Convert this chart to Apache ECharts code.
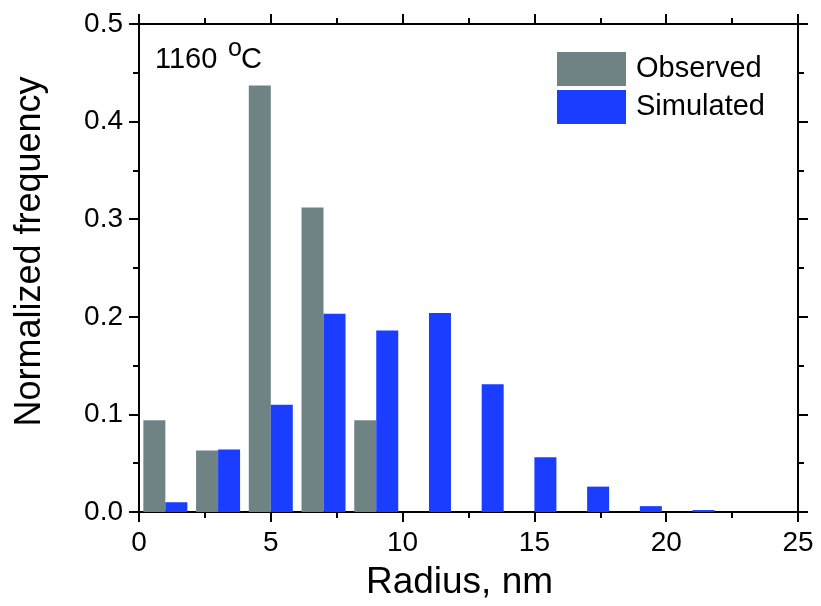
<!DOCTYPE html>
<html>
<head>
<meta charset="utf-8">
<script src="https://cdn.jsdelivr.net/npm/echarts@6/dist/echarts.min.js"></script>
<style>
  html, body { margin: 0; padding: 0; background: #fff; }
  #chart { width: 821px; height: 606px; }
</style>
</head>
<body>
<div id="chart"></div>
<script>
// bin centres (nm) and normalized frequencies
var binCenters = [1, 3, 5, 7, 9, 11, 13, 15, 17, 19, 21];
var observed = [0.094, 0.063, 0.437, 0.312, 0.094, 0, 0, 0, 0, 0, 0];
var simulated = [0.010, 0.064, 0.110, 0.203, 0.186, 0.204, 0.131, 0.056, 0.026, 0.006, 0.002];
var xTicks = [0, 5, 10, 15, 20, 25];
var yTicks = [0.0, 0.1, 0.2, 0.3, 0.4, 0.5];

var FONT = '"Liberation Sans", Arial, Helvetica, sans-serif';

function pairs(ys) {
    return binCenters.map(function (x, i) { return [x, ys[i]]; });
}

function axisBase(extra) {
    var base = {
        type: 'value',
        axisLine: { show: true, onZero: false, lineStyle: { color: '#000', width: 2 } },
        axisTick: { show: true, length: 10, lineStyle: { color: '#000', width: 2 } },
        minorTick: { show: true, splitNumber: 2, length: 6, lineStyle: { color: '#000', width: 2 } },
        splitLine: { show: false },
        minorSplitLine: { show: false }
    };
    return Object.assign(base, extra);
}

var myChart = echarts.init(document.getElementById('chart'));

myChart.setOption({
    animation: false,
    backgroundColor: '#fff',
    textStyle: { fontFamily: FONT },
    grid: { left: 139, right: 23, top: 24, bottom: 94 },
    legend: {
        orient: 'vertical',
        left: 557,
        top: 52,
        padding: 0,
        itemWidth: 69,
        itemHeight: 34,
        itemGap: 4,
        icon: 'rect',
        textStyle: { fontFamily: FONT, fontSize: 29, color: '#000', lineHeight: 34, padding: [0, 0, 0, 5] },
        data: ['Observed', 'Simulated']
    },
    xAxis: [
        axisBase({
            position: 'bottom',
            min: xTicks[0],
            max: xTicks[xTicks.length - 1],
            interval: 5,
            axisLabel: { color: '#000', fontSize: 28, margin: 17, fontFamily: FONT },
            name: 'Radius, nm',
            nameLocation: 'middle',
            nameGap: 52,
            nameTextStyle: { color: '#000', fontSize: 37, fontFamily: FONT, padding: [0, 18, 0, 0] }
        }),
        axisBase({
            position: 'top',
            min: xTicks[0],
            max: xTicks[xTicks.length - 1],
            interval: 5,
            axisLabel: { show: false }
        })
    ],
    yAxis: [
        axisBase({
            position: 'left',
            min: yTicks[0],
            max: yTicks[yTicks.length - 1],
            interval: 0.1,
            axisLabel: {
                color: '#000', fontSize: 28, margin: 16, fontFamily: FONT,
                formatter: function (v) { return v.toFixed(1); }
            },
            name: 'Normalized frequency',
            nameLocation: 'middle',
            nameGap: 91,
            nameTextStyle: { color: '#000', fontSize: 36, fontFamily: FONT, padding: [0, 0, 0, 33] }
        }),
        axisBase({
            position: 'right',
            min: yTicks[0],
            max: yTicks[yTicks.length - 1],
            interval: 0.1,
            axisLabel: { show: false }
        })
    ],
    graphic: [
        { type: 'text', x: 155, y: 45, style: { text: '1160', font: '29px ' + FONT, fill: '#000' } },
        { type: 'text', x: 228, y: 37, style: { text: 'o', font: '25px ' + FONT, fill: '#000' } },
        { type: 'text', x: 241, y: 45, style: { text: 'C', font: '29px ' + FONT, fill: '#000' } }
    ],
    series: [
        {
            name: 'Observed',
            type: 'bar',
            xAxisIndex: 0,
            yAxisIndex: 0,
            barWidth: 22,
            barGap: '0%',
            itemStyle: { color: '#6f8384' },
            data: pairs(observed)
        },
        {
            name: 'Simulated',
            type: 'bar',
            xAxisIndex: 0,
            yAxisIndex: 0,
            barWidth: 22,
            barGap: '0%',
            itemStyle: { color: '#1a3dff' },
            data: pairs(simulated)
        }
    ]
});
</script>
</body>
</html>
